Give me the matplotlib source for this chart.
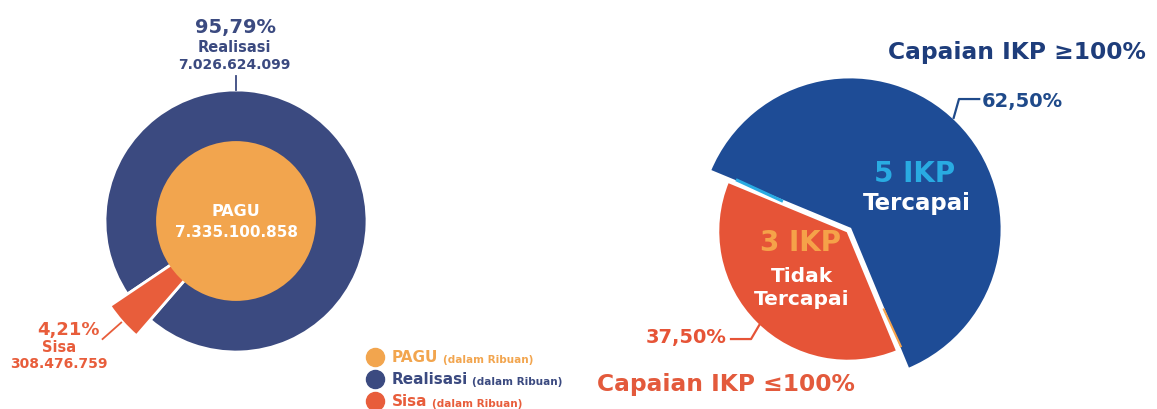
import numpy as np
import matplotlib.pyplot as plt

W, H = 1157, 410

# anggaran (dalam ribuan)
pagu = 7335100858
realisasi = 7026624099
sisa = 308476759
pct_realisasi = "95,79%"
pct_sisa = "4,21%"
legend_labels = ["PAGU", "Realisasi", "Sisa"]

# capaian IKP
ikp_counts = [5, 3]
ikp_pct = ["62,50%", "37,50%"]

NAVY = "#3b4a80"
ORANGE = "#f2a54e"
RED = "#e85d3b"
BLUE = "#1e4c96"
RED2 = "#e65437"
CYAN = "#29abe2"
GOLD = "#f5a249"

plt.rcParams['font.family'] = ['DejaVu Sans']
plt.rcParams['font.weight'] = 'bold'


def fmt(v):
    return f"{v:,}".replace(",", ".")


fig = plt.figure(figsize=(W / 100, H / 100), dpi=100)


def pie_axes(cx, cy, r, lim):
    size = 2 * lim * r
    ax = fig.add_axes([(cx - lim * r) / W, (H - cy - lim * r) / H, size / W, size / H])
    return ax


def fix_axes(ax, lim):
    ax.set_xlim(-lim, lim)
    ax.set_ylim(-lim, lim)
    ax.set_aspect('equal')
    ax.axis('off')


def txt(x, y, s, ha='center', va='center', **kw):
    return fig.text(x / W, 1 - y / H, s, ha=ha, va=va, **kw)


# ---------------- left: donut realisasi ----------------
L1 = 1.45
ax1 = pie_axes(236, 222, 131, L1)
share_sisa = sisa / pagu
sisa_mid = 221.5
start1 = sisa_mid + 360 * share_sisa / 2

ring, _ = ax1.pie([realisasi, sisa], radius=1, startangle=start1,
                  colors=[NAVY, 'none'],
                  wedgeprops=dict(width=0.45, edgecolor='white', linewidth=2))
ring[1].set_visible(False)
cut, _ = ax1.pie([realisasi, sisa], radius=1.16, startangle=start1,
                 colors=['none', RED],
                 wedgeprops=dict(edgecolor='white', linewidth=2))
cut[0].set_visible(False)
ax1.pie([pagu], radius=0.61, colors=[ORANGE])
fix_axes(ax1, L1)

# leader lines
ax1.plot([0, 0], [1.0, 1.11], color=NAVY, lw=1.3)
a = np.radians(sisa_mid)
ax1.plot([1.17 * np.cos(a), 1.36 * np.cos(a)], [1.17 * np.sin(a), 1.36 * np.sin(a)],
         color=RED, lw=1.3)

txt(235, 27, pct_realisasi, size=14, color=NAVY)
txt(234, 48, 'Realisasi', size=10.5, color=NAVY)
txt(234, 65, fmt(realisasi), size=10, color=NAVY)
txt(236, 212, 'PAGU', size=11.5, color='white')
txt(236, 233, fmt(pagu), size=11, color='white')
txt(68, 330, pct_sisa, size=13, color=RED)
txt(59, 348, 'Sisa', size=10.5, color=RED)
txt(59, 364, fmt(sisa), size=10, color=RED)

# legend
for i, (lab, col) in enumerate(zip(legend_labels, [ORANGE, NAVY, RED])):
    y = 358 + 22 * i
    ax1.plot([375 / W], [1 - y / H], 'o', ms=13, color=col,
             transform=fig.transFigure, clip_on=False)
    t = txt(392, y, lab, ha='left', size=11, color=col)
    ax1.annotate('(dalam Ribuan)', xy=(1, 0), xycoords=t, xytext=(3, 0),
                 textcoords='offset points', size=7.5, color=col,
                 ha='left', va='bottom')

# ---------------- right: capaian IKP ----------------
L2 = 1.3
ax2 = pie_axes(850, 230, 152, L2)
start2 = -67.5
boom = 0.02
blue, _ = ax2.pie(ikp_counts, radius=1, startangle=start2,
                  colors=[BLUE, 'none'],
                  wedgeprops=dict(edgecolor='white', linewidth=2))
blue[1].set_visible(False)
red, _ = ax2.pie(ikp_counts, radius=0.855, startangle=start2, explode=[0, boom],
                 colors=['none', RED2],
                 wedgeprops=dict(edgecolor='white', linewidth=2))
red[0].set_visible(False)
fix_axes(ax2, L2)

# thin accent strips along the red slice borders
top_edge = start2 + 360 * ikp_counts[0] / sum(ikp_counts)
red_mid = np.radians((top_edge + start2 + 360) / 2)
dx, dy = boom * np.cos(red_mid), boom * np.sin(red_mid)
b = np.radians(top_edge - 2.2)
ax2.plot([dx + 0.47 * np.cos(b), dx + 0.81 * np.cos(b)],
         [dy + 0.47 * np.sin(b), dy + 0.81 * np.sin(b)],
         color=CYAN, lw=2.2, solid_capstyle='butt')
b = np.radians(start2 + 2.2)
ax2.plot([dx + 0.56 * np.cos(b), dx + 0.84 * np.cos(b)],
         [dy + 0.56 * np.sin(b), dy + 0.84 * np.sin(b)],
         color=GOLD, lw=1.5, solid_capstyle='butt')

# leaders
a = np.radians(47)
ax2.plot([np.cos(a), 0.717, 0.85], [np.sin(a), 0.855, 0.855], color='#1f4a8a', lw=1.6)
a = np.radians(226.5)
ax2.plot([0.86 * np.cos(a), -0.651, -0.783], [0.86 * np.sin(a), -0.724, -0.724],
         color=RED2, lw=1.6)

txt(1146, 53, 'Capaian IKP ≥100%', ha='right', size=16.8, color='#1e3d7b')
txt(982, 102, ikp_pct[0], ha='left', size=14, color='#1f4a8a')
txt(915, 174, f'{ikp_counts[0]} IKP', size=20, color=CYAN)
txt(917, 204, 'Tercapai', size=16.5, color='white')
txt(801, 243, f'{ikp_counts[1]} IKP', size=20, color=GOLD)
txt(802, 277, 'Tidak', size=14.5, color='white')
txt(802, 300, 'Tercapai', size=14.5, color='white')
txt(727, 338, ikp_pct[1], ha='right', size=14, color=RED2)
txt(597, 385, 'Capaian IKP ≤100%', ha='left', size=16.8, color='#e35a3c')

fig.savefig('out.png', dpi=100)
